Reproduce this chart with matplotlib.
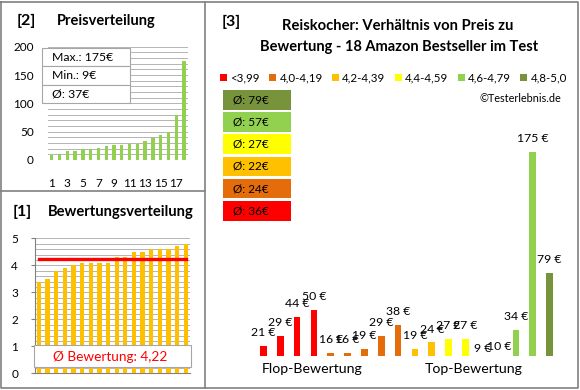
import matplotlib
matplotlib.use('Agg')
import matplotlib.pyplot as plt
from matplotlib.patches import Rectangle, Patch
from matplotlib.lines import Line2D

plt.rcParams['font.family'] = ['Lato', 'DejaVu Sans']

# main chart: price per product, grouped by rating class
prices = [21, 29, 44, 50, 16, 16, 19, 29, 38, 19, 24, 27, 27, 9, 10, 34, 175, 79]
group_sizes = [4, 5, 2, 2, 4, 1]
group_labels = ['<3,99', '4,0-4,19', '4,2-4,39', '4,4-4,59', '4,6-4,79', '4,8-5,0']
group_colors = ['#FF0000', '#E46C0A', '#FFC000', '#FFFF00', '#92D050', '#77933C']
group_avgs = ['Ø: 36€', 'Ø: 24€', 'Ø: 22€', 'Ø: 27€', 'Ø: 57€', 'Ø: 79€']

# price distribution (sorted)
price_dist = [9, 10, 16, 16, 19, 19, 21, 24, 27, 27, 29, 29, 34, 38, 44, 50, 79, 175]
price_box = ['Max.: 175€', 'Min.: 9€', 'Ø: 37€']

# rating distribution (sorted)
ratings = [3.4, 3.5, 3.8, 3.9, 4.0, 4.1, 4.1, 4.1, 4.1, 4.3, 4.3, 4.5, 4.5, 4.6, 4.6, 4.6, 4.7, 4.8]
avg_rating = 4.22

W, H = 580, 390
fig = plt.figure(figsize=(W / 100, H / 100), dpi=100)


def fx(x):
    return x / W


def fy(y):
    return 1 - y / H


def rect(x0, y0, x1, y1):
    return [fx(x0), fy(y1), (x1 - x0) / W, (y1 - y0) / H]


grid_c = '#B4B4B4'
border_c = '#808080'

# ---- panel [2] Preisverteilung
ax2 = fig.add_axes(rect(47.8, 46.7, 188, 160))
ax2.bar(range(len(price_dist)), price_dist, width=0.43, color='#92D050', zorder=3)
ax2.set_xlim(-0.5, len(price_dist) - 0.5)
ax2.set_ylim(0, 200)
ax2.set_yticks(range(0, 201, 50))
ax2.set_yticks(range(0, 201, 10), minor=True)
ax2.grid(True, which='both', axis='y', color=grid_c, lw=0.7, zorder=0)
ax2.set_xticks(range(0, 18, 2))
ax2.set_xticklabels([str(i + 1) for i in range(0, 18, 2)])
for s in ax2.spines.values():
    s.set_visible(False)
ax2.tick_params(which='both', length=0, labelsize=8.5)
ax2.tick_params(axis='x', pad=13)
ax2.tick_params(axis='y', pad=10)

bx0, by0, row_h, bw = 42, 48, 18.3, 88
for i, t in enumerate(price_box):
    fig.add_artist(Rectangle((fx(bx0), fy(by0 + (i + 1) * row_h)), bw / W, row_h / H,
                             transform=fig.transFigure, facecolor='white',
                             edgecolor='#A6A6A6', lw=0.8, zorder=2))
    fig.text(fx(51.7), fy(by0 + (i + 0.5) * row_h), t, fontsize=8.8, va='center', zorder=3)

# ---- panel [1] Bewertungsverteilung
ax1 = fig.add_axes(rect(34.7, 238.3, 190, 373.3))
ax1.bar(range(len(ratings)), ratings, width=0.5, color='#FFC000', zorder=3)
ax1.plot([0, len(ratings) - 1], [avg_rating, avg_rating], color='#FF0000', lw=2.4,
         solid_capstyle='projecting', zorder=4)
ax1.set_xlim(-0.5, len(ratings) - 0.5)
ax1.set_ylim(0, 5)
ax1.set_yticks(range(0, 6))
ax1.set_yticks([i * 0.2 for i in range(26)], minor=True)
ax1.grid(True, which='both', axis='y', color=grid_c, lw=0.7, zorder=0)
ax1.set_xticks([])
for k in ['top', 'right']:
    ax1.spines[k].set_visible(False)
for k in ['left', 'bottom']:
    ax1.spines[k].set_color(border_c)
ax1.tick_params(axis='y', which='major', length=3, color=border_c, labelsize=8.5, pad=9)
ax1.tick_params(axis='y', which='minor', length=0)

fig.add_artist(Rectangle((fx(34), fy(366.7)), (190.7 - 34) / W, (366.7 - 345) / H,
                         transform=fig.transFigure, facecolor='white',
                         edgecolor='#A6A6A6', lw=0.8, zorder=2))
fig.text(fx(110), fy(357), 'Ø Bewertung: ' + f'{avg_rating:.2f}'.replace('.', ','),
         color='#FF0000', fontsize=9.8, ha='center', va='center', zorder=3)

# ---- panel [3] main chart
colors = []
for c, n in zip(group_colors, group_sizes):
    colors += [c] * n

ax3 = fig.add_axes(rect(255, 120, 558, 355.7))
x = range(len(prices))
ax3.bar(x, prices, width=0.4, color=colors)
ax3.set_xlim(-0.5, len(prices) - 0.5)
ax3.set_ylim(13.5, 200)
ax3.axis('off')
for i, v in enumerate(prices):
    ax3.annotate(f'{v} €', (i, v), xytext=(0, 9.6), textcoords='offset points',
                 ha='center', va='center', fontsize=8.8, annotation_clip=False)

handles = [Patch(facecolor=c, edgecolor='none') for c in group_colors]
fig.legend(handles=handles, labels=group_labels, loc='center',
           bbox_to_anchor=(fx(393.5), fy(78)), ncol=6, frameon=False,
           handlelength=0.6, handleheight=0.6, handletextpad=0.3,
           columnspacing=0.8, fontsize=8.3, borderpad=0)

# average boxes, best class on top
for i, (c, t) in enumerate(zip(group_colors[::-1], group_avgs[::-1])):
    top = 90 + i * 22.2
    fig.add_artist(Rectangle((fx(223), fy(top + 19.5)), 68 / W, 19.5 / H,
                             transform=fig.transFigure, facecolor=c,
                             edgecolor='none', zorder=2))
    fig.text(fx(233), fy(top + 9.75), t, fontsize=8.5, va='center', zorder=3)

fig.text(fx(311.7), fy(369), 'Flop-Bewertung', fontsize=10.2, ha='center', va='center')
fig.text(fx(474), fy(369), 'Top-Bewertung', fontsize=10.2, ha='center', va='center')

# ---- titles
fig.text(fx(13), fy(211.7), '[1]', fontsize=11.5, weight='bold', va='center')
fig.text(fx(48), fy(211.7), 'Bewertungsverteilung', fontsize=10.6, weight='bold', va='center')
fig.text(fx(16.7), fy(20.7), '[2]', fontsize=11.5, weight='bold', va='center')
fig.text(fx(57), fy(20.7), 'Preisverteilung', fontsize=10.5, weight='bold', va='center')
fig.text(fx(222), fy(21.7), '[3]', fontsize=11.5, weight='bold', va='center')
fig.text(fx(398), fy(26), 'Reiskocher: Verhältnis von Preis zu', fontsize=10.6,
         weight='bold', ha='center', va='center')
fig.text(fx(398.8), fy(46.7), 'Bewertung - 18 Amazon Bestseller im Test', fontsize=10.5,
         weight='bold', ha='center', va='center')
fig.text(fx(561.7), fy(98), '©Testerlebnis.de', fontsize=7.8, ha='right', va='center')

# ---- panel borders
lk = dict(transform=fig.transFigure, color=border_c, lw=1.2)
fig.add_artist(Line2D([fx(1), fx(578), fx(578), fx(1), fx(1)],
                      [fy(1.5), fy(1.5), fy(388), fy(388), fy(1.5)], **lk))
fig.add_artist(Line2D([fx(205), fx(205)], [fy(1.5), fy(388)], **lk))
fig.add_artist(Line2D([fx(1), fx(205)], [fy(191.3), fy(191.3)], **lk))

fig.savefig('out.png', dpi=100)
